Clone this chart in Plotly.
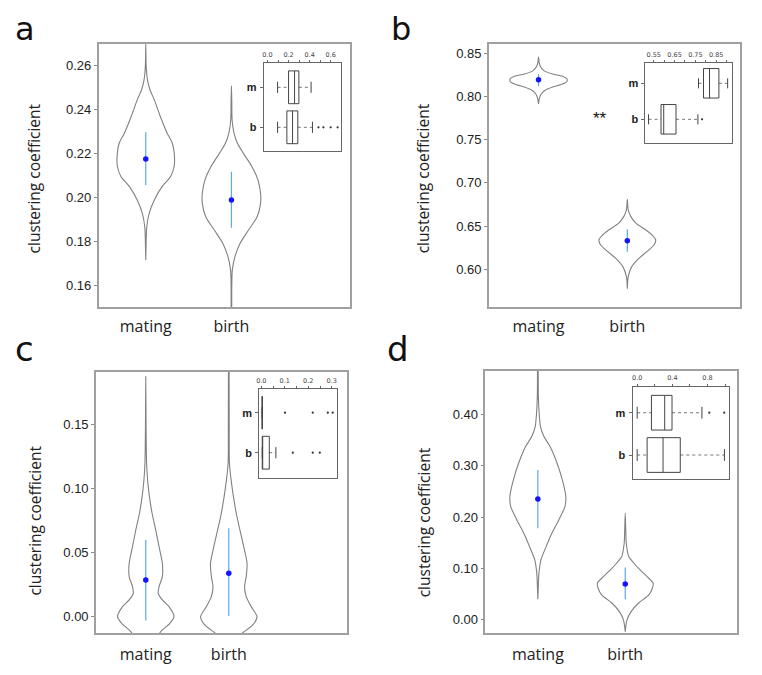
import plotly.graph_objects as go

# page body has an 8px margin: the figure is drawn 8px in and 8px down
OFF = 8
W, H = 762 - OFF, 675 - OFF

# ---------------- data ----------------
categories = ["mating", "birth"]
row_labels = ["m", "b"]

# panel a
a_yticks = [0.16, 0.18, 0.20, 0.22, 0.24, 0.26]
a_mat_v = [0.2699, 0.2597, 0.2536, 0.2490, 0.2445, 0.2369, 0.2293, 0.2247, 0.2186, 0.2140, 0.2095, 0.2049, 0.1988, 0.1927, 0.1866, 0.1805, 0.1714]
a_mat_w = [0.0, 0.005, 0.02, 0.05, 0.10, 0.17, 0.25, 0.31, 0.335, 0.33, 0.29, 0.19, 0.10, 0.04, 0.012, 0.005, 0.0]
a_bir_v = [0.2509, 0.2445, 0.2353, 0.2293, 0.2247, 0.2201, 0.2140, 0.2079, 0.2019, 0.1973, 0.1912, 0.1851, 0.1790, 0.1729, 0.1668, 0.1592, 0.1500, 0.1480]
a_bir_w = [0.0, 0.004, 0.008, 0.03, 0.07, 0.14, 0.24, 0.31, 0.34, 0.34, 0.30, 0.20, 0.10, 0.04, 0.01, 0.004, 0.003, 0.0]
a_mean = [0.2175, 0.1988]
a_err_lo = [0.2057, 0.1862]
a_err_hi = [0.2297, 0.2117]
a_box_m = [0.096, 0.200, 0.257, 0.298, 0.414]   # low whisker, q1, median, q3, high whisker
a_box_b = [0.096, 0.184, 0.238, 0.288, 0.427]
a_out_m = []
a_out_b = [0.484, 0.531, 0.600, 0.666]
a_in_ticks = [0.0, 0.1, 0.2, 0.3, 0.4, 0.5, 0.6]
a_in_text = ["0.0", "", "0.2", "", "0.4", "", "0.6"]

# panel b
b_yticks = [0.60, 0.65, 0.70, 0.75, 0.80, 0.85]
b_mat_v = [0.8461, 0.8400, 0.8350, 0.8300, 0.8260, 0.8235, 0.8205, 0.8175, 0.8145, 0.8110, 0.8070, 0.8020, 0.7970, 0.7914]
b_mat_w = [0.0, 0.006, 0.02, 0.06, 0.16, 0.27, 0.32, 0.32, 0.27, 0.16, 0.07, 0.025, 0.008, 0.0]
b_bir_v = [0.6810, 0.6687, 0.6610, 0.6532, 0.6455, 0.6397, 0.6340, 0.6282, 0.6204, 0.6127, 0.6031, 0.5915, 0.5776]
b_bir_w = [0.0, 0.01, 0.04, 0.10, 0.21, 0.28, 0.32, 0.30, 0.22, 0.13, 0.05, 0.01, 0.0]
b_mean = [0.8195, 0.6332]
b_err_lo = [0.8120, 0.6204]
b_err_hi = [0.8260, 0.6463]
b_box_m = [0.765, 0.789, 0.818, 0.863, 0.905]
b_box_b = [0.525, 0.585, 0.598, 0.657, 0.762]
b_out_m = []
b_out_b = [0.782]
b_in_ticks = [0.55, 0.60, 0.65, 0.70, 0.75, 0.80, 0.85, 0.90]
b_in_text = ["0.55", "", "0.65", "", "0.75", "", "0.85", ""]
b_signif = "**"
b_signif_pos = [0.69, 0.7748]

# panel c
c_yticks = [0.00, 0.05, 0.10, 0.15]
c_mat_v = [0.1872, 0.1456, 0.1196, 0.1066, 0.0936, 0.0806, 0.0676, 0.0546, 0.0416, 0.0312, 0.0234, 0.0182, 0.0130, 0.0078, 0.0000, -0.0052, -0.0104, -0.0156]
c_mat_w = [0.0, 0.004, 0.01, 0.022, 0.044, 0.076, 0.12, 0.16, 0.20, 0.20, 0.16, 0.15, 0.20, 0.28, 0.34, 0.29, 0.20, 0.12]
c_bir_v = [0.1950, 0.1500, 0.1196, 0.1066, 0.0936, 0.0806, 0.0676, 0.0546, 0.0416, 0.0312, 0.0234, 0.0156, 0.0078, 0.0000, -0.0065, -0.0130, -0.0200]
c_bir_w = [0.004, 0.005, 0.008, 0.028, 0.056, 0.09, 0.134, 0.18, 0.22, 0.21, 0.19, 0.21, 0.27, 0.34, 0.29, 0.16, 0.05]
c_mean = [0.0286, 0.0338]
c_err_lo = [-0.0031, 0.0005]
c_err_hi = [0.0598, 0.0689]
c_box_m = [0.004, 0.004, 0.004, 0.004, 0.004]
c_box_b = [0.004, 0.004, 0.006, 0.034, 0.062]
c_out_m = [0.101, 0.219, 0.283, 0.304]
c_out_b = [0.134, 0.219, 0.249]
c_in_ticks = [0.0, 0.05, 0.1, 0.15, 0.2, 0.25, 0.3]
c_in_text = ["0.0", "", "0.1", "", "0.2", "", "0.3"]

# panel d
d_yticks = [0.00, 0.10, 0.20, 0.30, 0.40]
d_mat_v = [0.4900, 0.4344, 0.4019, 0.3760, 0.3566, 0.3371, 0.3047, 0.2723, 0.2399, 0.2204, 0.1945, 0.1686, 0.1426, 0.1167, 0.0908, 0.0648, 0.0402]
d_mat_w = [0.004, 0.006, 0.015, 0.03, 0.07, 0.14, 0.22, 0.28, 0.32, 0.31, 0.24, 0.16, 0.095, 0.035, 0.012, 0.005, 0.0]
d_bir_v = [0.2075, 0.1750, 0.1491, 0.1232, 0.1102, 0.0973, 0.0843, 0.0713, 0.0616, 0.0486, 0.0324, 0.0162, 0.0000, -0.0227]
d_bir_w = [0.0, 0.006, 0.012, 0.04, 0.10, 0.17, 0.25, 0.32, 0.31, 0.27, 0.15, 0.067, 0.02, 0.0]
d_mean = [0.2353, 0.0700]
d_err_lo = [0.1783, 0.0402]
d_err_hi = [0.2917, 0.1018]
d_box_m = [0.0, 0.162, 0.313, 0.396, 0.736]
d_box_b = [0.0, 0.113, 0.294, 0.490, 0.992]
d_out_m = [0.820, 0.990]
d_out_b = []
d_in_ticks = [0.0, 0.2, 0.4, 0.6, 0.8, 1.0]
d_in_text = ["0.0", "", "0.4", "", "0.8", ""]

panel_letters = ["a", "b", "c", "d"]
y_title = "clustering coefficient"

# ---------------- layout geometry (window pixels) ----------------
main_px = {1: (96, 348, 44, 307), 2: (487.7, 740, 44, 307),
           3: (93.3, 345, 371.7, 633.3), 4: (484.3, 737, 371, 633.3)}
main_xr = {1: [-0.55, 2.38], 2: [-0.56, 2.27], 3: [-0.6, 2.42], 4: [-0.6, 2.28]}
main_yr = {1: [0.150, 0.270], 2: [0.5564, 0.8608], 3: [-0.013, 0.191], 4: [-0.026, 0.484]}
label_standoff = {1: 4, 2: 4, 3: 6, 4: 6}
inset_px = {5: (261.7, 339, 63.3, 150.7), 6: (645, 731.7, 63.3, 143.3),
            7: (257.3, 335, 389.3, 478.3), 8: (632, 729.3, 386.7, 479.3)}
inset_xr = {5: [-0.036, 0.695], 6: [0.5103, 0.925], 7: [-0.0085, 0.321], 8: [-0.053, 1.049]}
inset_yr = {5: [-0.585, 1.6], 6: [-0.667, 1.556], 7: [-0.64, 1.585], 8: [-0.574, 1.615]}


def px_x(p):
    return (p - OFF) / W


def px_y(p):
    return 1 - (p - OFF) / H


def dx(l, r):
    return [px_x(l), px_x(r)]


def dy(t, b):
    return [px_y(b), px_y(t)]


def ax(i):
    return ("x" if i == 1 else f"x{i}"), ("y" if i == 1 else f"y{i}")


fig = go.Figure()

VIOLIN_LINE = "#808080"


def add_violin(i, pos, vals, widths):
    xa, ya = ax(i)
    xs = [pos + w for w in widths] + [pos - w for w in reversed(widths)]
    ys = list(vals) + list(reversed(vals))
    fig.add_trace(go.Scatter(x=xs, y=ys, mode="lines", fill="toself", fillcolor="white",
                             line=dict(color=VIOLIN_LINE, width=1.1, shape="spline", smoothing=0.7),
                             xaxis=xa, yaxis=ya, hoverinfo="skip", showlegend=False))


def add_mean(i, means, lo, hi):
    xa, ya = ax(i)
    for k in range(len(means)):
        fig.add_trace(go.Scatter(x=[k, k], y=[lo[k], hi[k]], mode="lines",
                                 line=dict(color="#5aa8f0", width=1.2),
                                 xaxis=xa, yaxis=ya, hoverinfo="skip", showlegend=False))
    fig.add_trace(go.Scatter(x=list(range(len(means))), y=means, mode="markers",
                             marker=dict(color="#1414ff", size=5.5),
                             xaxis=xa, yaxis=ya, hoverinfo="skip", showlegend=False))


BOX_H = 0.41
CAP_H = 0.14


def add_box(i, row, stats, outliers):
    xa, ya = ax(i)
    lw, q1, med, q3, uw = stats
    fig.add_trace(go.Scatter(x=[lw, q1, None, q3, uw], y=[row, row, None, row, row], mode="lines",
                             line=dict(color="#777", width=1, dash="dot"),
                             xaxis=xa, yaxis=ya, hoverinfo="skip", showlegend=False))
    bx = [q1, q3, q3, q1, q1, None, med, med, None, lw, lw, None, uw, uw]
    by = [row - BOX_H, row - BOX_H, row + BOX_H, row + BOX_H, row - BOX_H, None,
          row - BOX_H, row + BOX_H, None, row - CAP_H, row + CAP_H, None, row - CAP_H, row + CAP_H]
    fig.add_trace(go.Scatter(x=bx, y=by, mode="lines", line=dict(color="#444", width=1),
                             xaxis=xa, yaxis=ya, hoverinfo="skip", showlegend=False))
    if outliers:
        fig.add_trace(go.Scatter(x=outliers, y=[row] * len(outliers), mode="markers",
                                 marker=dict(color="#333", size=2.2),
                                 xaxis=xa, yaxis=ya, hoverinfo="skip", showlegend=False))


panels = [
    (1, a_mat_v, a_mat_w, a_bir_v, a_bir_w, a_mean, a_err_lo, a_err_hi, a_yticks),
    (2, b_mat_v, b_mat_w, b_bir_v, b_bir_w, b_mean, b_err_lo, b_err_hi, b_yticks),
    (3, c_mat_v, c_mat_w, c_bir_v, c_bir_w, c_mean, c_err_lo, c_err_hi, c_yticks),
    (4, d_mat_v, d_mat_w, d_bir_v, d_bir_w, d_mean, d_err_lo, d_err_hi, d_yticks),
]
insets = [
    (5, a_box_m, a_box_b, a_out_m, a_out_b, a_in_ticks, a_in_text),
    (6, b_box_m, b_box_b, b_out_m, b_out_b, b_in_ticks, b_in_text),
    (7, c_box_m, c_box_b, c_out_m, c_out_b, c_in_ticks, c_in_text),
    (8, d_box_m, d_box_b, d_out_m, d_out_b, d_in_ticks, d_in_text),
]

layout = dict(width=W, height=H, margin=dict(l=0, r=0, t=0, b=0),
              paper_bgcolor="white", plot_bgcolor="rgba(0,0,0,0)", showlegend=False)

for (i, mv, mw, bv, bw, mean, lo, hi, yt) in panels:
    add_violin(i, 0, mv, mw)
    add_violin(i, 1, bv, bw)
    add_mean(i, mean, lo, hi)
    l, r, t, b = main_px[i]
    xa, ya = ax(i)
    xkey = "xaxis" if i == 1 else f"xaxis{i}"
    ykey = "yaxis" if i == 1 else f"yaxis{i}"
    layout[xkey] = dict(domain=dx(l, r), range=main_xr[i], anchor=ya, showgrid=False, zeroline=False,
                        showline=True, mirror=True, linecolor="#a0a0a0", linewidth=1.5,
                        tickvals=[0, 1], ticktext=categories, ticks="",
                        ticklabelstandoff=label_standoff[i],
                        tickfont=dict(family="Open Sans", size=16, color="#222"))
    layout[ykey] = dict(domain=dy(t, b), range=main_yr[i], anchor=xa, showgrid=False, zeroline=False,
                        showline=True, mirror=True, linecolor="#a0a0a0", linewidth=1.5,
                        tickvals=yt, ticktext=[f"{v:.2f}" for v in yt], ticks="outside", ticklen=3,
                        tickcolor="#888", tickwidth=1,
                        tickfont=dict(family="Liberation Sans", size=13, color="#222"))

for (i, bm, bb, om, ob, tv, tt) in insets:
    add_box(i, 1, bm, om)
    add_box(i, 0, bb, ob)
    l, r, t, b = inset_px[i]
    xa, ya = ax(i)
    layout[f"xaxis{i}"] = dict(domain=dx(l, r), range=inset_xr[i], anchor=ya, side="top",
                               showgrid=False, zeroline=False, showline=True, mirror=True,
                               linecolor="#666", linewidth=1, tickvals=tv, ticktext=tt,
                               ticks="outside", ticklen=2, tickcolor="#666", ticklabelstandoff=1,
                               tickfont=dict(family="DejaVu Sans", size=6.5, color="#444"))
    layout[f"yaxis{i}"] = dict(domain=dy(t, b), range=inset_yr[i], anchor=xa,
                               showgrid=False, zeroline=False, showline=True, mirror=True,
                               linecolor="#666", linewidth=1, tickvals=[1, 0],
                               ticktext=[f"<b>{s}</b>" for s in row_labels],
                               ticks="outside", ticklen=3, tickcolor="#666", ticklabelstandoff=1,
                               tickfont=dict(family="Liberation Sans", size=11, color="#222"))

annotations = []
# panel letters: top row anchored at the top of the figure so the text box stays inside it
letter_pos = [(22, 8.5, "top"), (400, 8.5, "top"), (22, 349, "middle"), (397, 349, "middle")]
letter_size = [32, 32, 34, 34]
for letter, (px, py, anc), fs in zip(panel_letters, letter_pos, letter_size):
    annotations.append(dict(text=letter, x=px_x(px), y=px_y(py), xref="paper", yref="paper",
                            xanchor="center", yanchor=anc, showarrow=False,
                            font=dict(family="DejaVu Sans", size=fs, color="#111")))
title_pos = [(31.5, 178), (422, 178), (31.7, 521), (422.5, 522.5)]
for (px, py) in title_pos:
    annotations.append(dict(text=y_title, x=px_x(px), y=px_y(py), xref="paper", yref="paper",
                            xanchor="center", yanchor="middle", textangle=-90, showarrow=False,
                            font=dict(family="Open Sans", size=15.5, color="#222")))
annotations.append(dict(text=b_signif, x=b_signif_pos[0], y=b_signif_pos[1], xref="x2", yref="y2",
                        xanchor="center", yanchor="middle", showarrow=False,
                        font=dict(family="Liberation Sans", size=17, color="#111")))
layout["annotations"] = annotations

fig.update_layout(**layout)
fig.write_html("out.html")
